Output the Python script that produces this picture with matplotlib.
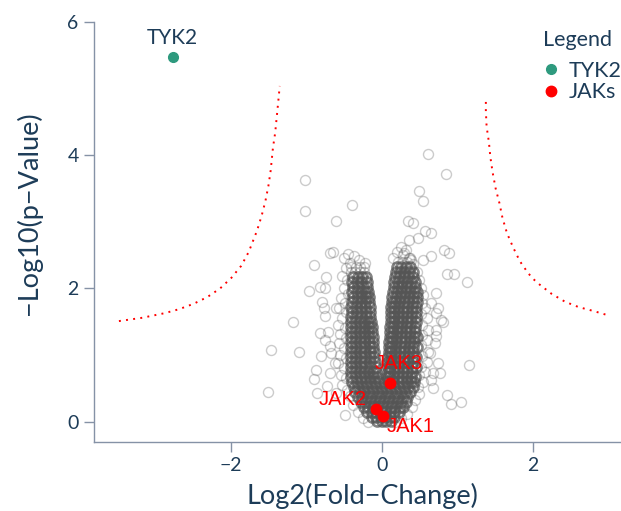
import matplotlib
matplotlib.use("Agg")
import matplotlib.pyplot as plt
from matplotlib.lines import Line2D

plt.rcParams['font.family'] = ['Lato', 'DejaVu Sans']

navy = '#1d3c58'
axis_col = '#8592a6'
teal = '#2e9a7e'
grey = '#555555'

# scattered proteins away from the centre of the volcano
out_x = [0.61, 0.85, -1.02, 0.49, 0.55, -1.02, -0.39, -0.60, 0.35, 0.41, 0.57, 0.66, 0.48, 0.36,
         -0.69, -0.64, -0.90, 0.83, 0.89, 0.65, 0.30, 0.37, 0.55, -0.74, -0.96, -0.82, -0.75, 0.86,
         0.96, 1.13, -1.18, -1.47, -1.10, -1.50, 1.16, 0.92, 1.05, 0.86, -0.48, -0.79, -0.77, -0.61,
         -0.75, -0.90, -0.87, -0.86, 0.72, 0.79, 0.81, 0.75, 0.66, 0.68, 0.72, 0.70, -0.82, -0.71,
         -0.80, -0.69, -0.67, -0.75, -0.69, -0.62, -0.73, -0.60, 0.72, 0.66, 0.64, 0.68, 0.77, 0.39,
         0.75, 0.72]
out_y = [4.02, 3.72, 3.63, 3.46, 3.31, 3.16, 3.25, 3.02, 3.01, 2.99, 2.87, 2.83, 2.76, 2.72,
         2.53, 2.54, 2.35, 2.57, 2.53, 2.48, 2.53, 2.45, 2.42, 2.17, 1.96, 2.02, 2.01, 2.21,
         2.22, 2.09, 1.49, 1.08, 1.04, 0.44, 0.85, 0.26, 0.30, 0.40, 0.10, 1.80, 1.71, 1.71,
         1.58, 0.64, 0.78, 0.43, 1.63, 1.53, 1.50, 0.88, 0.63, 0.50, 1.28, 1.18, 1.33, 1.35,
         0.98, 1.13, 1.03, 1.23, 0.73, 0.88, 0.53, 0.43, 1.93, 1.78, 1.03, 0.73, 0.73, 2.43,
         1.70, 1.38]

# looser ring of points around the two arms
halo_x = [-0.50, -0.44, -0.36, -0.30, -0.47, -0.52, -0.46, -0.50, -0.45, -0.54, -0.48, -0.56,
          -0.47, -0.53, -0.58, -0.48, -0.55, -0.47, -0.57, -0.50, -0.55, -0.47, -0.58, -0.50,
          -0.54, -0.47, -0.52, -0.46, -0.42, -0.38, -0.32, -0.25, -0.18, -0.42, -0.22,
          0.20, 0.28, 0.36, 0.42, 0.47, 0.50, 0.52, 0.55, 0.53, 0.58, 0.52, 0.60, 0.54, 0.62,
          0.53, 0.60, 0.52, 0.62, 0.54, 0.60, 0.52, 0.58, 0.50, 0.55, 0.48, 0.50, 0.44, 0.40,
          0.34, 0.26, 0.18, 0.15, 0.25, 0.32,
          -0.40, -0.34, -0.29, -0.24, -0.41, -0.35, -0.29, -0.23, 0.22, 0.28, 0.34]
halo_y = [2.45, 2.52, 2.48, 2.42, 2.30, 2.18, 2.12, 2.00, 1.92, 1.85, 1.78, 1.70,
          1.64, 1.55, 1.45, 1.40, 1.32, 1.25, 1.18, 1.10, 1.00, 0.95, 0.88, 0.80,
          0.70, 0.66, 0.55, 0.48, 0.38, 0.25, 0.15, 0.06, 0.00, 2.38, 2.38,
          2.55, 2.50, 2.45, 2.36, 2.25, 2.12, 2.00, 1.90, 1.78, 1.70, 1.62, 1.55, 1.45, 1.38,
          1.30, 1.22, 1.15, 1.05, 0.98, 0.90, 0.82, 0.75, 0.70, 0.60, 0.52, 0.42, 0.32, 0.22,
          0.12, 0.05, 0.00, 2.45, 2.62, 2.58,
          2.32, 2.32, 2.32, 2.32, 2.25, 2.25, 2.25, 2.25, 2.40, 2.40, 2.40]

# dense centre of the volcano, one row per -log10 p level
core_rows = [
    (2.32, [0.20, 0.26, 0.32, 0.38]),
    (2.25, [0.19, 0.24, 0.30, 0.36, 0.41]),
    (2.17, [-0.38, -0.32, -0.26, -0.21, 0.18, 0.23, 0.29, 0.35, 0.41]),
    (2.10, [-0.39, -0.33, -0.27, -0.20, 0.17, 0.22, 0.27, 0.33, 0.39, 0.44]),
    (2.02, [-0.38, -0.32, -0.25, -0.19, 0.16, 0.21, 0.26, 0.32, 0.38, 0.44]),
    (1.95, [-0.39, -0.33, -0.27, -0.22, -0.18, 0.15, 0.20, 0.25, 0.31, 0.37, 0.43, 0.47]),
    (1.87, [-0.38, -0.32, -0.26, -0.21, -0.17, 0.14, 0.19, 0.24, 0.30, 0.36, 0.42, 0.47]),
    (1.80, [-0.39, -0.33, -0.27, -0.22, -0.17, 0.14, 0.18, 0.23, 0.29, 0.35, 0.41, 0.47]),
    (1.72, [-0.40, -0.34, -0.28, -0.22, -0.16, 0.13, 0.17, 0.22, 0.28, 0.34, 0.40, 0.46]),
    (1.65, [-0.39, -0.33, -0.27, -0.21, -0.15, 0.13, 0.17, 0.22, 0.28, 0.34, 0.40, 0.46]),
    (1.57, [-0.40, -0.34, -0.28, -0.21, -0.15, 0.12, 0.16, 0.21, 0.27, 0.33, 0.39, 0.45]),
    (1.50, [-0.41, -0.35, -0.29, -0.23, -0.18, -0.14, 0.12, 0.16, 0.21, 0.27, 0.33, 0.39, 0.45]),
    (1.42, [-0.40, -0.34, -0.28, -0.22, -0.17, -0.13, 0.11, 0.15, 0.20, 0.26, 0.32, 0.38, 0.44]),
    (1.35, [-0.41, -0.35, -0.29, -0.23, -0.18, -0.13, 0.11, 0.15, 0.20, 0.26, 0.32, 0.38, 0.44]),
    (1.27, [-0.40, -0.34, -0.28, -0.22, -0.17, -0.12, 0.11, 0.14, 0.19, 0.25, 0.31, 0.37, 0.43, 0.47]),
    (1.20, [-0.41, -0.35, -0.29, -0.23, -0.17, -0.11, 0.10, 0.14, 0.19, 0.25, 0.31, 0.37, 0.43]),
    (1.12, [-0.40, -0.34, -0.28, -0.22, -0.16, -0.11, 0.10, 0.13, 0.18, 0.24, 0.30, 0.36, 0.42, 0.47]),
    (1.05, [-0.41, -0.35, -0.29, -0.23, -0.16, -0.10, 0.10, 0.13, 0.18, 0.24, 0.30, 0.36, 0.42]),
    (0.97, [-0.40, -0.34, -0.28, -0.22, -0.16, -0.10, 0.09, 0.12, 0.17, 0.23, 0.29, 0.35, 0.41, 0.46]),
    (0.90, [-0.41, -0.35, -0.29, -0.23, -0.16, -0.09, 0.09, 0.12, 0.17, 0.23, 0.29, 0.35, 0.41]),
    (0.82, [-0.40, -0.34, -0.28, -0.22, -0.15, -0.08, 0.08, 0.11, 0.16, 0.22, 0.28, 0.34, 0.40, 0.45]),
    (0.75, [-0.41, -0.35, -0.29, -0.23, -0.18, -0.12, -0.07, 0.08, 0.11, 0.16, 0.22, 0.28, 0.34, 0.40]),
    (0.67, [-0.40, -0.34, -0.28, -0.22, -0.16, -0.11, -0.06, 0.07, 0.10, 0.15, 0.21, 0.27, 0.33, 0.39, 0.44]),
    (0.60, [-0.39, -0.33, -0.27, -0.21, -0.15, -0.09, -0.03, 0.03, 0.09, 0.15, 0.21, 0.27, 0.33, 0.39, 0.43]),
    (0.52, [-0.37, -0.31, -0.25, -0.19, -0.13, -0.07, -0.01, 0.05, 0.11, 0.17, 0.23, 0.29, 0.35, 0.41]),
    (0.45, [-0.35, -0.29, -0.23, -0.17, -0.11, -0.05, 0.01, 0.07, 0.13, 0.19, 0.25, 0.31, 0.37]),
    (0.37, [-0.32, -0.26, -0.20, -0.14, -0.08, -0.02, 0.04, 0.10, 0.16, 0.22, 0.28, 0.34]),
    (0.30, [-0.28, -0.22, -0.16, -0.10, -0.04, 0.02, 0.08, 0.14, 0.20, 0.26, 0.32]),
    (0.22, [-0.24, -0.18, -0.12, -0.06, 0.00, 0.06, 0.12, 0.18, 0.24, 0.28]),
    (0.15, [-0.19, -0.13, -0.07, -0.01, 0.05, 0.11, 0.17, 0.23]),
    (0.07, [-0.13, -0.07, -0.01, 0.05, 0.11, 0.17]),
    (0.01, [-0.06, 0.00, 0.06, 0.12]),
]
core_x = [x for y, xs in core_rows for x in xs]
core_y = [y for y, xs in core_rows for x in xs]

# significance threshold curves
left_curve_x = [-3.48, -3.17, -2.87, -2.68, -2.49, -2.31, -2.14, -1.99, -1.86, -1.76, -1.65,
                -1.59, -1.54, -1.50, -1.47, -1.44, -1.41, -1.39, -1.37, -1.35]
left_curve_y = [1.51, 1.56, 1.63, 1.69, 1.77, 1.87, 2.00, 2.16, 2.34, 2.55, 2.87,
                3.09, 3.31, 3.54, 3.77, 4.11, 4.34, 4.57, 4.80, 5.04]
right_curve_x = [1.38, 1.38, 1.39, 1.42, 1.44, 1.47, 1.51, 1.56, 1.60, 1.66, 1.74, 1.83,
                 1.94, 2.01, 2.09, 2.25, 2.43, 2.61, 2.81, 2.99]
right_curve_y = [4.80, 4.66, 4.43, 4.20, 3.97, 3.74, 3.50, 3.28, 3.06, 2.83, 2.62, 2.41,
                 2.23, 2.14, 2.06, 1.92, 1.80, 1.72, 1.66, 1.60]

tyk2_x, tyk2_y = -2.77, 5.47
jak_names = ['JAK1', 'JAK2', 'JAK3']
jak_x = [0.02, -0.07, 0.11]
jak_y = [0.08, 0.19, 0.58]
jak_offsets = {'JAK1': (20, -7), 'JAK2': (-24, 7), 'JAK3': (6, 14)}

fig = plt.figure(figsize=(6.21, 5.11), dpi=100)
ax = fig.add_axes([94 / 621, 69 / 511, 527 / 621, 420 / 511])

ax.plot(out_x + halo_x, out_y + halo_y, 'o', ms=7.2, mfc='none', mec=grey,
        mew=1.0, alpha=0.3, zorder=2)
ax.plot(core_x, core_y, 'o', ms=7.2, mfc='none', mec=grey, mew=1.9, alpha=0.72, zorder=2)

for cx, cy in [(left_curve_x, left_curve_y), (right_curve_x, right_curve_y)]:
    ax.plot(cx, cy, color='red', lw=1.4, ls=(0, (1, 2.7)), zorder=3)

ax.plot(tyk2_x, tyk2_y, 'o', ms=7, color=teal, zorder=4)
ax.annotate('TYK2', (tyk2_x, tyk2_y), xytext=(0, 14), textcoords='offset points',
            ha='center', va='center', fontsize=15, color=navy)

ax.plot(jak_x, jak_y, 'o', ms=7.5, color='red', zorder=4)
for name, x, y in zip(jak_names, jak_x, jak_y):
    ax.annotate(name, (x, y), xytext=jak_offsets[name], textcoords='offset points',
                ha='center', va='center', fontsize=14.5, color='red',
                family=['Liberation Sans', 'DejaVu Sans'], zorder=5)

ax.set_xlim(-3.81, 3.17)
ax.set_ylim(-0.305, 6.0)
ax.set_xticks([-2, 0, 2])
ax.set_yticks([0, 2, 4, 6])
for s in ['top', 'right']:
    ax.spines[s].set_visible(False)
for s in ['left', 'bottom']:
    ax.spines[s].set_color(axis_col)
    ax.spines[s].set_linewidth(1.0)
ax.tick_params(colors=axis_col, labelcolor=navy, labelsize=14, length=7, width=1.0, pad=4)

ax.set_xlabel('Log2(Fold−Change)', fontsize=19.5, color=navy)
ax.set_ylabel('−Log10(p−Value)', fontsize=19.5, color=navy)
ax.xaxis.set_label_coords(0.51, -0.097)
ax.yaxis.set_label_coords(-0.099, 0.545)

fig.text(543 / 621, 1 - 40 / 511, 'Legend', fontsize=15.5, color=navy, ha='left', va='center')
handles = [Line2D([], [], ls='none', marker='o', ms=7, color=teal, label='TYK2'),
           Line2D([], [], ls='none', marker='o', ms=7.5, color='red', label='JAKs')]
leg = fig.legend(handles=handles, loc='upper left',
                 bbox_to_anchor=(541 / 621, 1 - 61 / 511), frameon=False, fontsize=15.5,
                 handlelength=0.9, handletextpad=0.4, labelspacing=0.05, borderpad=0,
                 borderaxespad=0)
for t in leg.get_texts():
    t.set_color(navy)

fig.savefig('out.png', dpi=100)
